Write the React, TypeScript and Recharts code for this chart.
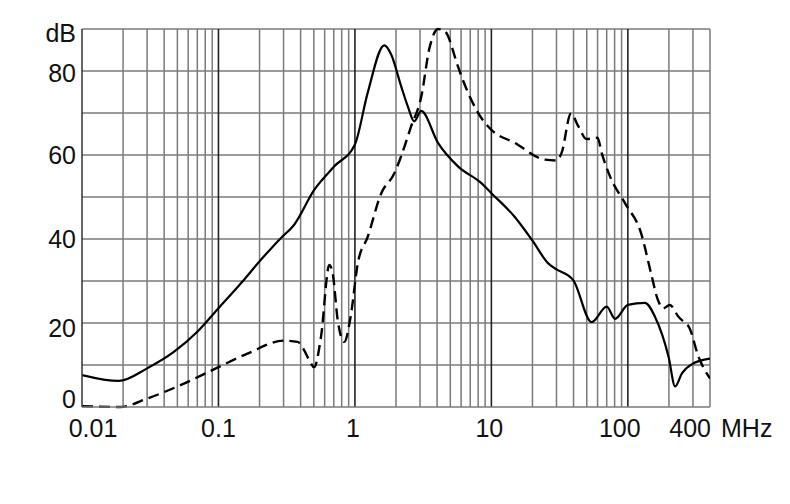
import React from "react";
import { LineChart, Line, XAxis, YAxis, ReferenceLine } from "recharts";

// Frequencies in MHz and levels in dB
const solidFreq = [0.01, 0.0186, 0.03, 0.0471, 0.07, 0.1, 0.1456, 0.204, 0.286, 0.359, 0.503, 0.706, 1.0, 1.24, 1.64, 1.84, 2.18, 2.44, 2.72, 3.06, 4.06, 5.69, 8.45, 10, 14.8, 20, 26.1, 29.2, 39.8, 54.3, 70, 80.6, 100, 133.5, 158, 199, 222, 249, 295, 400];
const solidDb = [7.6, 6.2, 9.2, 13.1, 17.9, 23.5, 29.4, 35.0, 40.2, 43.4, 51.7, 57.3, 62.5, 74.8, 86.1, 84.0, 76.4, 71.6, 68.0, 70.5, 62.9, 57.3, 53.3, 50.9, 45.3, 39.6, 34.2, 33.0, 30.2, 20.2, 23.9, 21.0, 24.3, 24.8, 21.5, 11.9, 4.9, 8.0, 10.2, 11.5];

const dashFreq = [0.01, 0.019, 0.03, 0.0527, 0.1, 0.163, 0.303, 0.38, 0.425, 0.465, 0.503, 0.564, 0.649, 0.687, 0.748, 0.835, 0.93, 1.05, 1.24, 1.56, 1.95, 2.18, 2.58, 3.06, 3.52, 4.06, 4.55, 5.69, 6.03, 8.45, 10, 14.8, 24.7, 30.1, 32.7, 38.3, 43.4, 49.9, 60, 64.3, 74, 95.5, 125, 148, 166, 182, 203, 235, 263, 280, 330, 400];
const dashDb = [0.2, 0, 2.0, 5.2, 9.5, 12.7, 15.8, 15.5, 13.5, 11.0, 9.5, 16.7, 33.8, 31.8, 20.7, 15.5, 21.5, 34.2, 40.5, 50.9, 55.7, 59.7, 66.8, 73.8, 85.5, 90, 89.5, 81.1, 78.8, 68.8, 66.0, 62.9, 58.9, 58.7, 60.5, 69.9, 66.8, 63.8, 64.1, 60.5, 54.9, 48.5, 41.4, 31.8, 25.5, 23.5, 24.3, 21.5, 20.0, 19.1, 11.9, 6.8];

const xTicks = [0.01, 0.1, 1, 10, 100, 400];
const xTickLabels = ["0.01", "0.1", "1", "10", "100", "400"];
const xUnit = "MHz";
const yTicks = [0, 20, 40, 60, 80, 90];
const yTickLabels = ["0", "20", "40", "60", "80", "dB"];

const majorX = [0.1, 1, 10, 100];
const minorX = [
  0.02, 0.03, 0.04, 0.05, 0.06, 0.07, 0.08, 0.09,
  0.2, 0.3, 0.4, 0.5, 0.6, 0.7, 0.8, 0.9,
  2, 3, 4, 5, 6, 7, 8, 9,
  20, 30, 40, 50, 60, 70, 80, 90,
  200, 300, 400,
];
const gridY = [10, 20, 30, 40, 50, 60, 70, 80, 90];

const solidData = solidFreq.map((f, i) => ({ f, v: solidDb[i] }));
const dashData = dashFreq.map((f, i) => ({ f, v: dashDb[i] }));

const FONT = "'Liberation Sans', Arial, sans-serif";
const FS = 25;
const xLabelShift: Record<string, number> = { "0.01": 11, "100": -8, "10": -2, "1": -2 };
const yLabelDy: Record<string, number> = { "0": 1, "20": 14, "40": 9, "60": 9, "80": 11, dB: 13 };

const XTick = (props: any) => {
  const { x, y, payload } = props;
  const idx = xTicks.indexOf(payload.value);
  const label = xTickLabels[idx] ?? String(payload.value);
  if (label === "400") {
    return (
      <g>
        <text x={x + 1} y={y + 22} textAnchor="end" fontSize={FS} fontFamily={FONT} fill="#111">
          {label}
        </text>
        <text x={x + 11} y={y + 22} textAnchor="start" fontSize={FS} fontFamily={FONT} fill="#111">
          {xUnit}
        </text>
      </g>
    );
  }
  return (
    <text x={x + (xLabelShift[label] ?? 0)} y={y + 22} textAnchor="middle" fontSize={FS} fontFamily={FONT} fill="#111">
      {label}
    </text>
  );
};

const YTick = (props: any) => {
  const { x, y, payload } = props;
  const idx = yTicks.indexOf(payload.value);
  const label = yTickLabels[idx] ?? String(payload.value);
  return (
    <text x={x} y={y + (yLabelDy[label] ?? 9)} textAnchor="end" fontSize={FS} fontFamily={FONT} fill="#111">
      {label}
    </text>
  );
};

export default function App() {
  return (
    <div style={{ width: 774, height: 470, background: "#fff" }}>
      <LineChart width={774} height={470} margin={{ top: 21, right: 72, bottom: 31, left: 0 }}>
        <XAxis
          dataKey="f"
          type="number"
          scale="log"
          domain={[0.01, 400]}
          ticks={xTicks}
          allowDataOverflow
          tickLine={false}
          axisLine={{ stroke: "#7a7a7a", strokeWidth: 1.5 }}
          tick={<XTick />}
          height={40}
          interval={0}
        />
        <YAxis
          type="number"
          domain={[0, 90]}
          ticks={yTicks}
          tickLine={false}
          axisLine={{ stroke: "#333", strokeWidth: 1.5 }}
          tick={<YTick />}
          width={74}
          tickMargin={0}
          interval={0}
        />
        {gridY.map((v) => (
          <ReferenceLine key={"h" + v} y={v} stroke="#7a7a7a" strokeWidth={1.5} />
        ))}
        {minorX.map((v) => (
          <ReferenceLine key={"m" + v} x={v} stroke="#7a7a7a" strokeWidth={1.5} />
        ))}
        {majorX.map((v) => (
          <ReferenceLine key={"M" + v} x={v} stroke="#222" strokeWidth={1.6} />
        ))}
        <Line
          data={solidData}
          dataKey="v"
          type="monotone"
          stroke="#000"
          strokeWidth={2.2}
          dot={false}
          isAnimationActive={false}
        />
        <Line
          data={dashData}
          dataKey="v"
          type="monotone"
          stroke="#000"
          strokeWidth={2.4}
          strokeDasharray="11 6"
          dot={false}
          isAnimationActive={false}
        />
      </LineChart>
    </div>
  );
}
